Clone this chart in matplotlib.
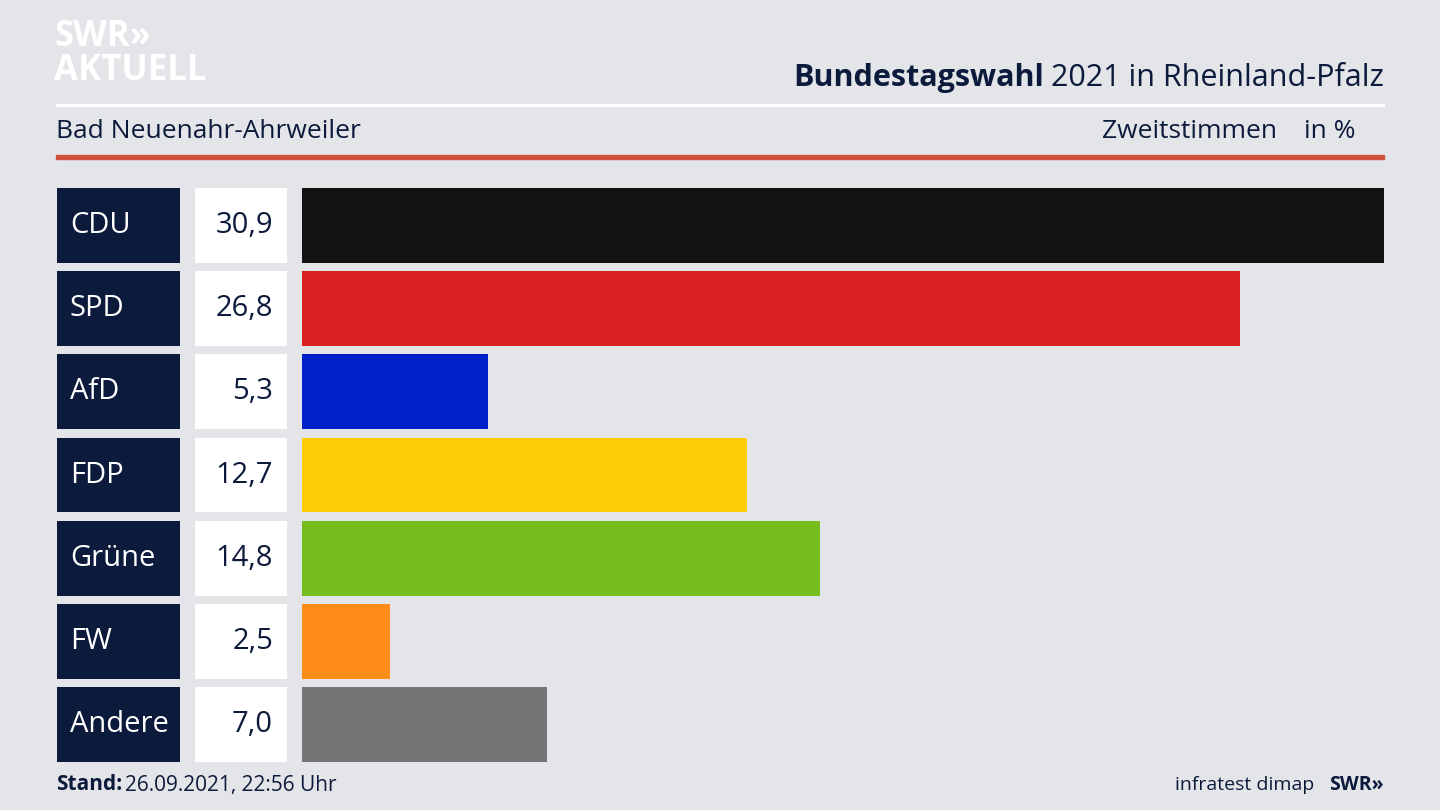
import matplotlib
matplotlib.use("Agg")
import matplotlib.pyplot as plt
from matplotlib.patches import Rectangle

parties = ["CDU", "SPD", "AfD", "FDP", "Grüne", "FW", "Andere"]
values = [30.9, 26.8, 5.3, 12.7, 14.8, 2.5, 7.0]
colors = ["#121212", "#d91f1f", "#0021c8", "#ffcc08", "#77bd1d", "#ff8c16", "#757577"]
labels = ["30,9", "26,8", "5,3", "12,7", "14,8", "2,5", "7,0"]

W, H = 1440, 810
fig = plt.figure(figsize=(14.4, 8.1), dpi=100)
fig.patch.set_facecolor("#e3e5e9")
FONT = "Open Sans"
NAVY = "#0c1a3b"

def fx(px): return px / W
def fy(py): return 1 - py / H

# header
fig.text(fx(54), fy(37), "SWR»", fontsize=25, fontweight="bold", color="white", family=FONT, va="center")
fig.text(fx(54), fy(71), "AKTUELL", fontsize=25, fontweight="bold", color="white", family=FONT, va="center")
t1 = fig.text(fx(1384), fy(78), "2021 in Rheinland-Pfalz", fontsize=22, color=NAVY, family=FONT, ha="right", va="center")
fig.canvas.draw()
bb = t1.get_window_extent()
fig.text(bb.x0 / W - 0.005, fy(78), "Bundestagswahl", fontsize=22, fontweight="bold", color=NAVY, family=FONT, ha="right", va="center")
fig.add_artist(Rectangle((fx(56), fy(106)), fx(1384) - fx(56), 2 / H, color="white", transform=fig.transFigure))
fig.text(fx(56), fy(132), "Bad Neuenahr-Ahrweiler", fontsize=19, color=NAVY, family=FONT, va="center")
fig.text(fx(1277), fy(132), "Zweitstimmen", fontsize=19, color=NAVY, family=FONT, va="center", ha="right")
fig.text(fx(1355), fy(132), "in %", fontsize=19, color=NAVY, family=FONT, va="center", ha="right")
fig.add_artist(Rectangle((fx(56), fy(159)), fx(1384) - fx(56), 4 / H, color="#d0513e", transform=fig.transFigure))

# bars
ax = fig.add_axes([fx(302), fy(762), fx(1384) - fx(302), (762 - 188) / H])
ax.set_facecolor("none")
n = len(parties)
ys = list(range(n))
ax.barh(ys, values, height=0.9, color=colors, left=0)
ax.set_xlim(0, max(values))
ax.set_ylim(n - 1 + 0.45, -0.45)
ax.axis("off")
ppu = (1384 - 302) / max(values)
lb0, lb1 = (57 - 302) / ppu, (180 - 302) / ppu
vb0, vb1 = (195 - 302) / ppu, (287 - 302) / ppu
ax.barh(ys, [lb1 - lb0] * n, left=lb0, height=0.9, color=NAVY, clip_on=False)
ax.barh(ys, [vb1 - vb0] * n, left=vb0, height=0.9, color="white", clip_on=False)
for y, p, l in zip(ys, parties, labels):
    ax.text(lb0 + 13 / ppu, y, p, color="white", fontsize=21, family=FONT, va="center", ha="left", clip_on=False)
    ax.text(vb1 - 14 / ppu, y, l, color=NAVY, fontsize=21, family=FONT, va="center", ha="right", clip_on=False)

# footer
fig.text(fx(56), fy(785), "Stand:", fontsize=15, fontweight="bold", color=NAVY, family=FONT, va="center")
fig.text(fx(125), fy(785), "26.09.2021, 22:56 Uhr", fontsize=15, color=NAVY, family=FONT, va="center")
fig.text(fx(1314), fy(785), "infratest dimap", fontsize=14, color=NAVY, family=FONT, va="center", ha="right")
fig.text(fx(1384), fy(785), "SWR»", fontsize=14, fontweight="bold", color=NAVY, family=FONT, va="center", ha="right")

fig.savefig("out.png", dpi=100, facecolor=fig.get_facecolor())
